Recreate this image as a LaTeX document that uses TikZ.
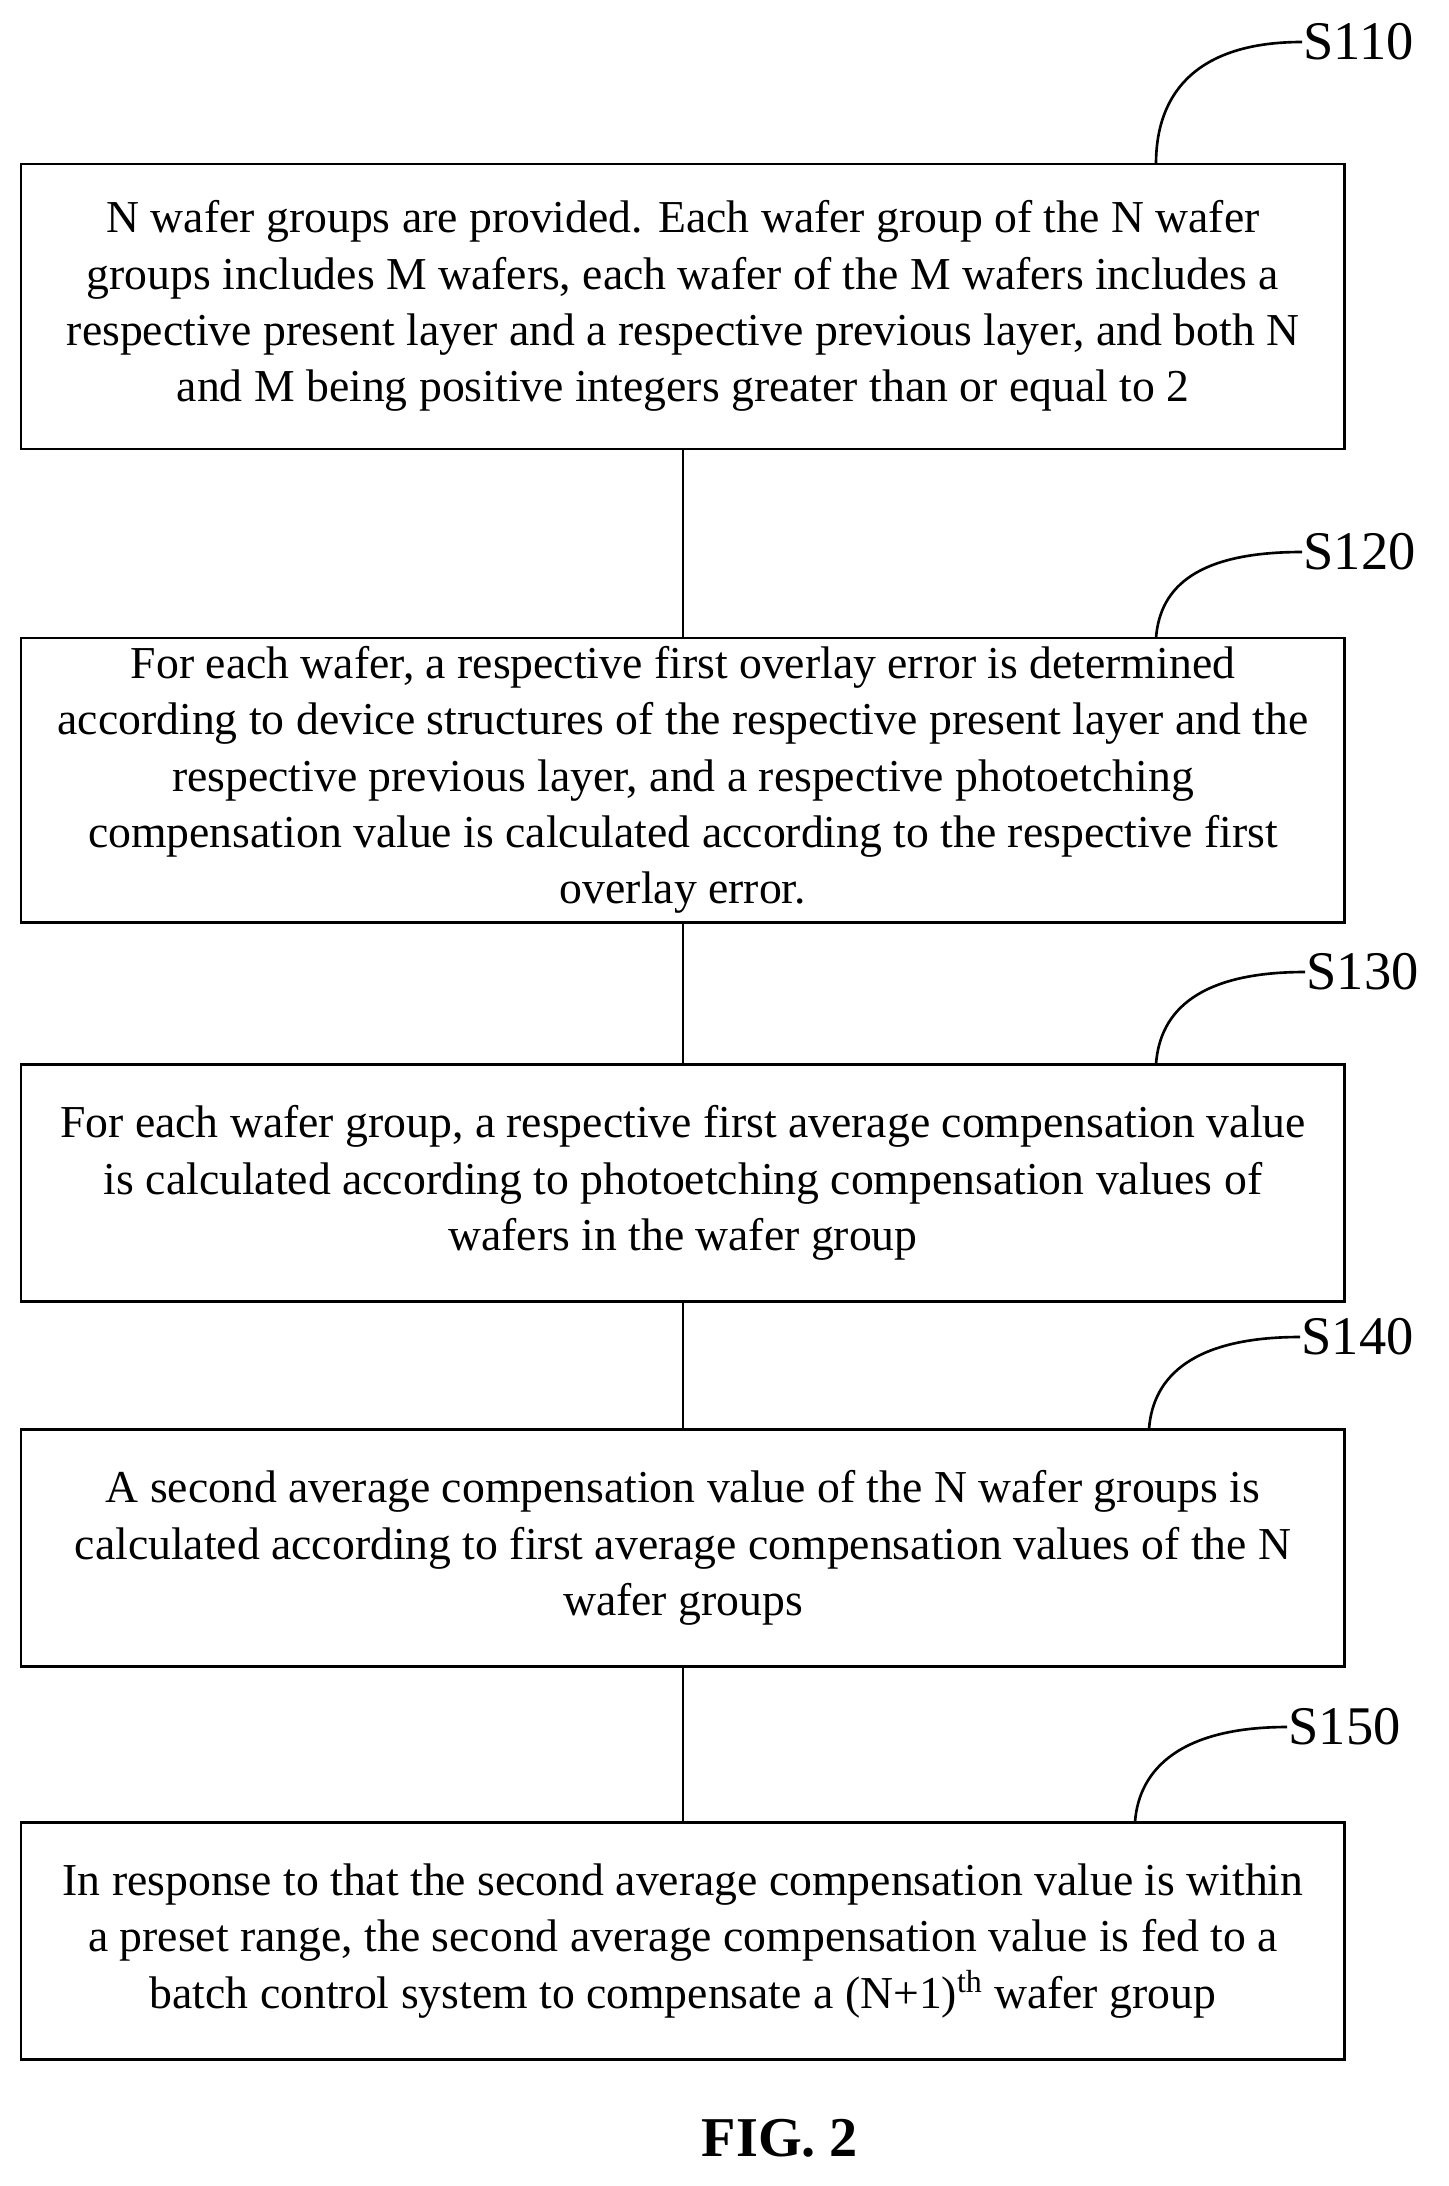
\documentclass[tikz,border=0pt]{standalone}
\usepackage{fontspec}
\setmainfont{Liberation Serif}
\begin{document}
\begin{tikzpicture}[x=0.02cm,y=-0.02cm,line width=1.7pt,
  boxtext/.style={align=center,font=\fontsize{26}{32}\selectfont,inner sep=0pt},
  steplabel/.style={anchor=west,font=\fontsize{31}{36}\selectfont,inner sep=0pt},
  lead/.style={line width=1.5pt}]
\useasboundingbox (0,0) rectangle (1449,2186);
\draw (21,164) rectangle (1344,449);
\draw (21,638) rectangle (1344,922);
\draw (21,1064) rectangle (1344,1301);
\draw (21,1429) rectangle (1344,1666);
\draw (21,1822) rectangle (1344,2059);
\node[boxtext] (b1) at (683,306) {N wafer groups are provided. Each wafer group of the N wafer\\groups includes M wafers, each wafer of the M wafers includes a\\respective present layer and a respective previous layer, and both N\\and M being positive integers greater than or equal to 2};
\node[boxtext] (b2) at (683,780) {For each wafer, a respective first overlay error is determined\\according to device structures of the respective present layer and the\\respective previous layer, and a respective photoetching\\compensation value is calculated according to the respective first\\overlay error.};
\node[boxtext] (b3) at (683,1183) {For each wafer group, a respective first average compensation value\\is calculated according to photoetching compensation values of\\wafers in the wafer group};
\node[boxtext] (b4) at (683,1548) {A second average compensation value of the N wafer groups is\\calculated according to first average compensation values of the N\\wafer groups};
\node[boxtext] (b5) at (683,1941) {In response to that the second average compensation value is within\\a preset range, the second average compensation value is fed to a\\batch control system to compensate a (N+1)\textsuperscript{th} wafer group};
\coordinate (t1) at (683,449); \coordinate (u2) at (683,638);
\coordinate (t2) at (683,922); \coordinate (u3) at (683,1064);
\coordinate (t3) at (683,1301); \coordinate (u4) at (683,1429);
\coordinate (t4) at (683,1666); \coordinate (u5) at (683,1822);
\draw[lead] (t1)--(u2); \draw[lead] (t2)--(u3); \draw[lead] (t3)--(u4); \draw[lead] (t4)--(u5);
\node[steplabel] (s1) at (1302,42) {S110};
\node[steplabel] (s2) at (1302,552) {S120};
\node[steplabel] (s3) at (1305,972) {S130};
\node[steplabel] (s4) at (1300,1337) {S140};
\node[steplabel] (s5) at (1287,1727) {S150};
\draw[lead] (1156,164) .. controls (1156,90) and (1200,42) .. (s1.west);
\draw[lead] (1156,638) .. controls (1160,585) and (1200,552) .. (s2.west);
\draw[lead] (1156,1064) .. controls (1160,1010) and (1200,972) .. (s3.west);
\draw[lead] (1149,1429) .. controls (1153,1375) and (1195,1337) .. (s4.west);
\draw[lead] (1135,1822) .. controls (1139,1768) and (1182,1727) .. (s5.west);
\node[font=\fontsize{32}{38}\selectfont\bfseries] (fig) at (780,2138) {FIG. 2};
\end{tikzpicture}
\end{document}
